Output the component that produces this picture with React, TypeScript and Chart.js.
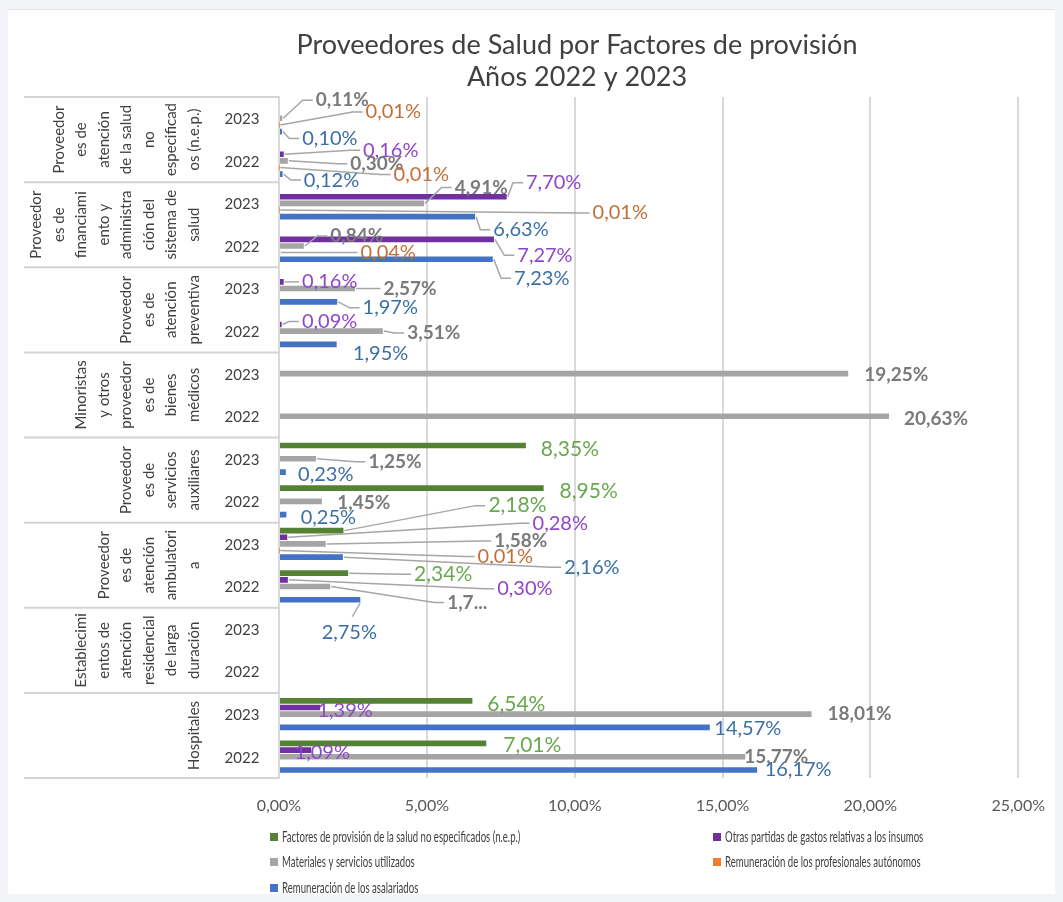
import React, { useEffect, useRef } from "react";
import { Chart, registerables } from "chart.js";

Chart.register(...registerables);

// ---------- DATA (rows listed top to bottom) ----------
const YEARS = ["2023", "2022"];

const GROUP_LINES: string[][] = [
  ["Proveedor", "es de", "atención", "de la salud", "no", "especificad", "os (n.e.p.)"],
  ["Proveedor", "es de", "financiami", "ento y", "administra", "ción del", "sistema de", "salud"],
  ["Proveedor", "es de", "atención", "preventiva"],
  ["Minoristas", "y otros", "proveedor", "es de", "bienes", "médicos"],
  ["Proveedor", "es de", "servicios", "auxiliares"],
  ["Proveedor", "es de", "atención", "ambulatori", "a"],
  ["Establecimi", "entos de", "atención", "residencial", "de larga", "duración"],
  ["Hospitales"],
];

const SERIES_NAMES = [
  "Factores de provisión de la salud no especificados (n.e.p.)",
  "Otras partidas de gastos relativas a los insumos",
  "Materiales y servicios utilizados",
  "Remuneración de los profesionales autónomos",
  "Remuneración de los asalariados",
];

// values in %, 16 rows: each group -> 2023, 2022
const FACTORES_NEP = [null, null, null, null, null, null, null, null, 8.35, 8.95, 2.18, 2.34, null, null, 6.54, 7.01];
const OTRAS_PARTIDAS = [null, 0.16, 7.7, 7.27, 0.16, 0.09, null, null, null, null, 0.28, 0.3, null, null, 1.39, 1.09];
const MATERIALES = [0.11, 0.3, 4.91, 0.84, 2.57, 3.51, 19.25, 20.63, 1.25, 1.45, 1.58, 1.73, null, null, 18.01, 15.77];
const REM_AUTONOMOS = [0.01, 0.01, 0.01, 0.04, null, null, null, null, null, null, 0.01, null, null, null, null, null];
const REM_ASALARIADOS = [0.1, 0.12, 6.63, 7.23, 1.97, 1.95, null, null, 0.23, 0.25, 2.16, 2.75, null, null, 14.57, 16.17];

const X_TICKS = [0, 5, 10, 15, 20, 25];

// ---------- STYLE ----------
const BAR_COLORS = ["#548235", "#7030A0", "#A5A5A5", "#ED7D31", "#4472C4"];
const LABEL_COLORS = ["#6aa84f", "#9146c8", "#7a7a7a", "#c0703a", "#3c6fa6"];
const LABEL_FONTS = ["21px Lato", "20px Lato", "bold 19px Lato", "20px Lato", "20px Lato"];

// label placement offsets from bar end: [dx, dy, leaderLine]
const LABEL_OFFSETS: Record<number, [number, number, number]>[] = [
  { 8: [44, 4, 0], 9: [45, 3, 0], 10: [174, -25, 1], 11: [95, 1, 1], 14: [44, 3, 0], 15: [46, 2, 0] },
  { 1: [107, -4, 1], 2: [47, -14, 1], 3: [51, 16, 1], 4: [46, 0, 1], 5: [48, -3, 1], 10: [273, -14, 1], 11: [237, 9, 1], 14: [25, 3, 0], 15: [11, 2, 0] },
  { 0: [60, -18, 1], 1: [89, 3, 1], 2: [57, -16, 1], 3: [53, -10, 1], 4: [55, 0, 1], 5: [51, 2, 1], 6: [48, 1, 0], 7: [47, 3, 0], 8: [79, 3, 1], 9: [42, 2, 0], 10: [195, -3, 1], 11: [137, 16, 1], 14: [48, 0, 0], 15: [31, 0, 0] },
  { 0: [114, -13, 1], 1: [142, 7, 1], 2: [341, 3, 1], 3: [108, 0, 1], 10: [226, 6, 1] },
  { 0: [48, 7, 1], 1: [49, 6, 1], 2: [46, 13, 1], 3: [49, 19, 1], 4: [53, 6, 1], 5: [44, 9, 0], 8: [40, 2, 0], 9: [42, 3, 0], 10: [249, 10, 1], 11: [-11, 33, 1], 14: [38, 1, 0], 15: [41, 0, 0] },
];
// labels shown truncated in the original
const TRUNCATED: [number, number][] = [[2, 11]];

const fmt = (v: number) => v.toFixed(2).replace(".", ",") + "%";

const W = 1055;
const H = 884;

const customPlugin = {
  id: "customDraw",
  afterDraw(chart: any) {
    const ctx: CanvasRenderingContext2D = chart.ctx;
    const area = chart.chartArea;
    const nRows = GROUP_LINES.length * YEARS.length;
    const rowH = (area.bottom - area.top) / nRows;

    ctx.save();
    // Title
    ctx.fillStyle = "#404040";
    ctx.font = "27px Lato";
    ctx.textAlign = "center";
    ctx.textBaseline = "middle";
    ctx.fillText("Proveedores de Salud por Factores de provisión", 569, 35);
    ctx.fillText("Años 2022 y 2023", 569, 67);

    // Category table
    ctx.strokeStyle = "#d4d4d4";
    ctx.lineWidth = 2;
    for (let g = 0; g <= GROUP_LINES.length; g++) {
      const y = area.top + g * 2 * rowH;
      ctx.beginPath();
      ctx.moveTo(16, y);
      ctx.lineTo(area.left, y);
      ctx.stroke();
    }
    ctx.fillStyle = "#404040";
    ctx.font = "15px Lato";
    for (let g = 0; g < GROUP_LINES.length; g++) {
      for (let k = 0; k < YEARS.length; k++) {
        const y = area.top + (g * 2 + k + 0.5) * rowH;
        ctx.textAlign = "center";
        ctx.fillText(YEARS[k], 234, y + 1);
      }
      const lines = GROUP_LINES[g];
      const cy = area.top + (g * 2 + 1) * rowH;
      lines.forEach((line, k) => {
        const cx = 186 - (lines.length - 1 - k) * 22.5;
        ctx.save();
        ctx.translate(cx, cy);
        ctx.rotate(-Math.PI / 2);
        ctx.textAlign = "center";
        ctx.fillText(line, 0, 0);
        ctx.restore();
      });
    }

    // Data labels
    chart.data.datasets.forEach((ds: any, d: number) => {
      const meta = chart.getDatasetMeta(d);
      ds.data.forEach((v: number | null, i: number) => {
        if (v === null || v === undefined) return;
        const off = LABEL_OFFSETS[d][i];
        if (!off) return;
        const el = meta.data[i];
        const cx = el.x + off[0];
        const cy = el.y + off[1];
        let text = fmt(v);
        if (TRUNCATED.some(([a, b]) => a === d && b === i)) text = text.slice(0, 3) + "...";
        ctx.font = LABEL_FONTS[d];
        const tw = ctx.measureText(text).width;
        if (off[2]) {
          ctx.strokeStyle = "#a6a6a6";
          ctx.lineWidth = 1.5;
          ctx.beginPath();
          const left = cx - tw / 2 - 3;
          if (left > el.x + 6) {
            ctx.moveTo(el.x + 1, el.y);
            ctx.lineTo(Math.max(el.x + 1, left - 10), cy);
            ctx.lineTo(left, cy);
          } else {
            ctx.moveTo(el.x, el.y + 3);
            ctx.lineTo(el.x - 8, cy - 16);
          }
          ctx.stroke();
        }
        ctx.fillStyle = LABEL_COLORS[d];
        ctx.textAlign = "center";
        ctx.textBaseline = "middle";
        ctx.fillText(text, cx, cy);
      });
    });

    // Legend
    const legendPos = [
      [262, 827],
      [705, 827],
      [262, 852],
      [705, 852],
      [262, 878],
    ];
    ctx.font = "16px Lato";
    ctx.textAlign = "left";
    ctx.textBaseline = "middle";
    SERIES_NAMES.forEach((name, d) => {
      const [x, y] = legendPos[d];
      ctx.fillStyle = BAR_COLORS[d];
      ctx.fillRect(x, y - 4, 8, 8);
      ctx.fillStyle = "#404040";
      ctx.save();
      ctx.translate(x + 12, y);
      ctx.scale(0.6, 1);
      ctx.fillText(name, 0, 0);
      ctx.restore();
    });
    ctx.restore();
  },
};

export default function App() {
  const ref = useRef<HTMLCanvasElement>(null);
  useEffect(() => {
    document.body.style.background = "#f3f4f8";
    document.body.style.overflow = "hidden";
    const rowLabels: string[][] = [];
    GROUP_LINES.forEach((g) => YEARS.forEach((y) => rowLabels.push([g.join(" "), y])));
    const series = [FACTORES_NEP, OTRAS_PARTIDAS, MATERIALES, REM_AUTONOMOS, REM_ASALARIADOS];
    const chart = new Chart(ref.current as HTMLCanvasElement, {
      type: "bar",
      data: {
        labels: rowLabels,
        datasets: series.map((data, d) => ({
          label: SERIES_NAMES[d],
          data: data as any,
          backgroundColor: BAR_COLORS[d],
          borderWidth: 0,
          categoryPercentage: 0.78,
          barPercentage: 0.85,
        })),
      },
      options: {
        indexAxis: "y",
        responsive: false,
        animation: false,
        devicePixelRatio: 1,
        layout: { padding: { top: 87, right: 42, left: 0, bottom: 0 } },
        plugins: {
          legend: { display: false },
          title: { display: false },
          tooltip: { enabled: false },
        },
        scales: {
          x: {
            min: 0,
            max: 25,
            afterBuildTicks: (s: any) => {
              s.ticks = X_TICKS.map((v) => ({ value: v }));
            },
            ticks: {
              callback: (v: any) => fmt(Number(v)),
              color: "#595959",
              font: { family: "Lato", size: 16 },
              padding: 18,
              maxRotation: 0,
            },
            grid: { color: "#d9d9d9", lineWidth: 2, drawTicks: false },
            border: { display: false },
            afterFit: (s: any) => {
              s.height = 116;
            },
          },
          y: {
            ticks: { display: false },
            grid: { display: false },
            border: { color: "#d9d9d9", width: 2 },
            afterFit: (s: any) => {
              s.width = 271;
            },
          },
        },
      } as any,
      plugins: [customPlugin],
    });
    return () => chart.destroy();
  }, []);
  return (
    <div
      style={{
        width: W,
        height: H,
        marginTop: 2,
        background: "#ffffff",
        boxShadow: "0 0 0 1px #e2e2e6",
      }}
    >
      <canvas ref={ref} width={W} height={H} style={{ display: "block" }} />
    </div>
  );
}
